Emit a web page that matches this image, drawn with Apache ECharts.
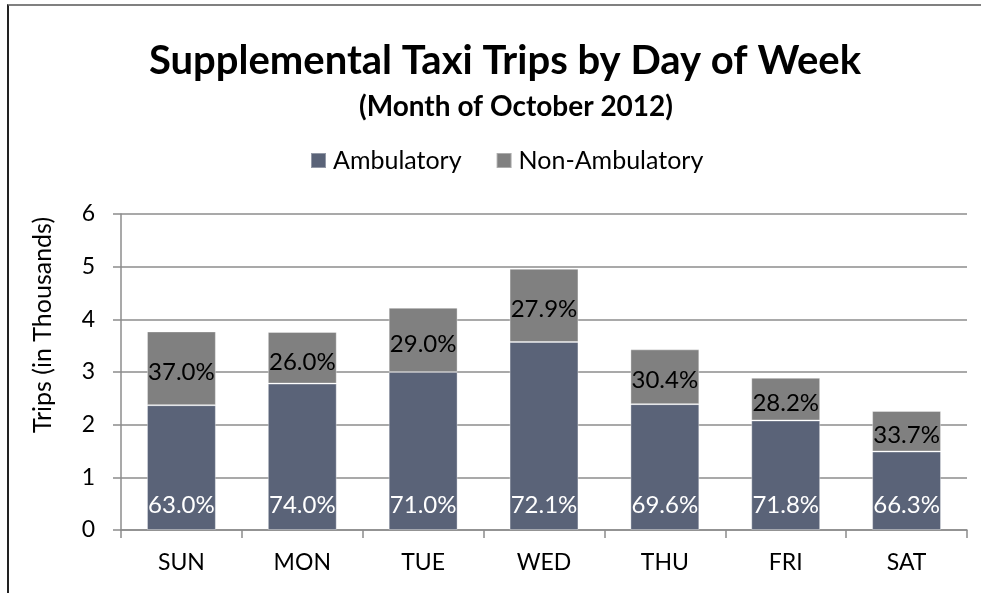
<!DOCTYPE html>
<html>
<head>
<meta charset="utf-8">
<script src="https://cdn.jsdelivr.net/npm/echarts@6/dist/echarts.min.js"></script>
<style>
html,body{margin:0;padding:0;background:#fff;}
#chart{position:absolute;left:0;top:0;width:981px;height:593px;}
#frame{position:absolute;left:7px;top:4px;right:-4px;bottom:-4px;border-top:2px solid #808080;border-left:2px solid #222;pointer-events:none;}
</style>
</head>
<body>
<div id="chart"></div>
<div id="frame"></div>
<script>
const days = ['SUN','MON','TUE','WED','THU','FRI','SAT'];
const ambulatory = [2.37, 2.78, 3.00, 3.57, 2.39, 2.08, 1.49];
const nonAmbulatory = [1.40, 0.98, 1.22, 1.39, 1.04, 0.81, 0.77];
const ambulatoryPct = [63.0, 74.0, 71.0, 72.1, 69.6, 71.8, 66.3];
const nonAmbulatoryPct = [37.0, 26.0, 29.0, 27.9, 30.4, 28.2, 33.7];
const yTicks = [0, 1, 2, 3, 4, 5, 6];

const FONT = 'Lato, "Open Sans", sans-serif';
const chart = echarts.init(document.getElementById('chart'), null, {renderer: 'canvas'});
chart.setOption({
  animation: false,
  textStyle: {fontFamily: FONT},
  title: [
    {text: 'Supplemental Taxi Trips by Day of Week', left: 500, textAlign: 'center', top: 36,
     textStyle: {fontFamily: FONT, fontSize: 40, fontWeight: 'bold', color: '#000'}},
    {text: '(Month of October 2012)', left: 511, textAlign: 'center', top: 88,
     textStyle: {fontFamily: FONT, fontSize: 28, fontWeight: 'bold', color: '#000'}}
  ],
  legend: {
    top: 148, left: 310, padding: 0,
    itemWidth: 15, itemHeight: 15, itemGap: 34,
    icon: 'rect',
    textStyle: {fontFamily: FONT, fontSize: 25, color: '#000', padding: [0,0,0,2]},
    data: ['Ambulatory', 'Non-Ambulatory']
  },
  grid: {left: 121, right: 14, top: 214, bottom: 63},
  xAxis: {
    type: 'category', data: days,
    axisLine: {lineStyle: {color: '#8c8c8c', width: 1.5}},
    axisTick: {show: true, length: 8, lineStyle: {color: '#8c8c8c', width: 1.5}},
    axisLabel: {fontFamily: FONT, fontSize: 23, color: '#000', margin: 21}
  },
  yAxis: {
    type: 'value', min: 0, max: 6, interval: 1,
    name: 'Trips (in Thousands)', nameLocation: 'middle', nameGap: 66,
    nameTextStyle: {fontFamily: FONT, fontSize: 25, color: '#000', padding: [0, 0, 0, 94]},
    axisLine: {show: true, lineStyle: {color: '#8c8c8c', width: 1.5}},
    axisTick: {show: true, length: 8, lineStyle: {color: '#8c8c8c', width: 1.5}},
    splitLine: {lineStyle: {color: '#8c8c8c', width: 1.5}},
    axisLabel: {fontFamily: FONT, fontSize: 23, color: '#000', margin: 26,
      formatter: v => yTicks.includes(v) ? String(v) : ''}
  },
  series: [
    {
      name: 'Ambulatory', type: 'bar', stack: 'total', barWidth: '57%',
      data: ambulatory,
      itemStyle: {color: '#5a6378', borderColor: 'rgba(255,255,255,0.35)', borderWidth: 1},
      label: {show: true, position: 'insideBottom', distance: 13, color: '#fff',
        fontFamily: FONT, fontSize: 24,
        formatter: p => ambulatoryPct[p.dataIndex].toFixed(1) + '%'}
    },
    {
      name: 'Non-Ambulatory', type: 'bar', stack: 'total', barWidth: '57%',
      data: nonAmbulatory,
      itemStyle: {color: '#808080', borderColor: 'rgba(255,255,255,0.35)', borderWidth: 1},
      label: {show: true, position: 'inside', offset: [0, 4], color: '#000',
        fontFamily: FONT, fontSize: 24,
        formatter: p => nonAmbulatoryPct[p.dataIndex].toFixed(1) + '%'}
    }
  ]
});
</script>
</body>
</html>
